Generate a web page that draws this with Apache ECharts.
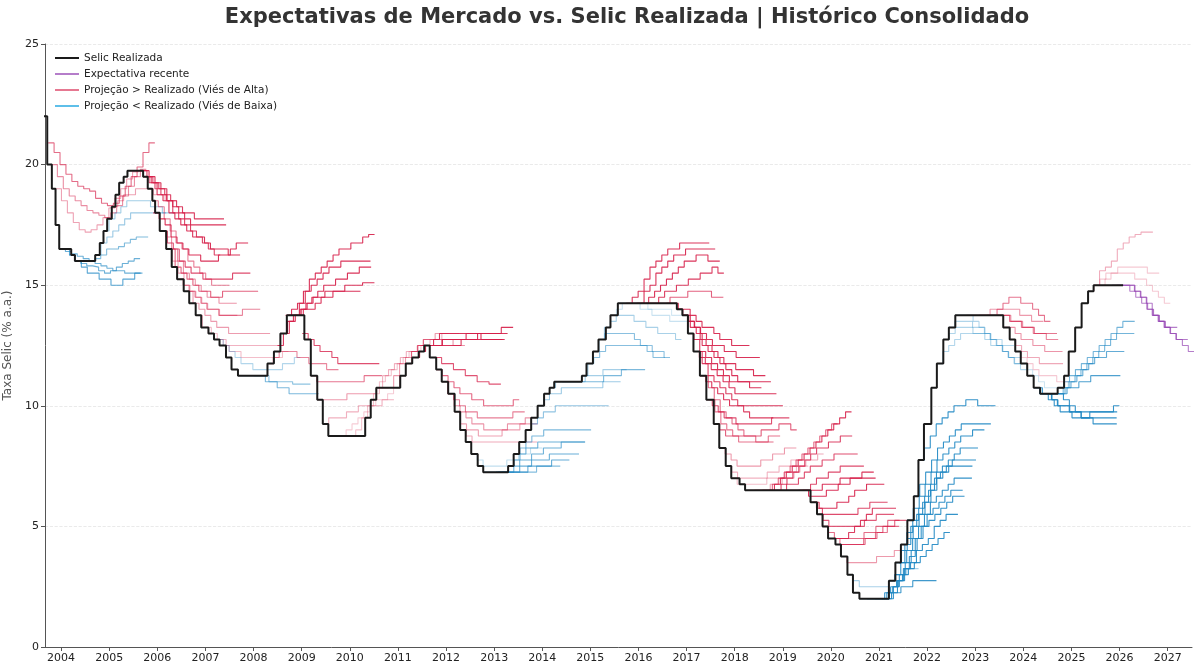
<!DOCTYPE html>
<html>
<head>
<meta charset="utf-8">
<script src="https://cdn.jsdelivr.net/npm/echarts@6/dist/echarts.min.js"></script>
<style>
  html, body { margin: 0; padding: 0; background: #fff; }
  #chart { width: 1200px; height: 672px; }
</style>
</head>
<body>
<div id="chart"></div>
<script>
// Selic realizada: [data da decisão, taxa]
const selicChanges = [
  ['2003-08-21', 22.0], ['2003-09-18', 20.0], ['2003-10-23', 19.0], ['2003-11-20', 17.5], ['2003-12-18', 16.5],
  ['2004-03-18', 16.25], ['2004-04-15', 16.0], ['2004-09-16', 16.25], ['2004-10-21', 16.75], ['2004-11-18', 17.25],
  ['2004-12-16', 17.75], ['2005-01-20', 18.25], ['2005-02-17', 18.75], ['2005-03-17', 19.25], ['2005-04-20', 19.5],
  ['2005-05-19', 19.75], ['2005-09-15', 19.5], ['2005-10-20', 19.0], ['2005-11-24', 18.5], ['2005-12-15', 18.0],
  ['2006-01-19', 17.25], ['2006-03-09', 16.5], ['2006-04-20', 15.75], ['2006-05-31', 15.25], ['2006-07-20', 14.75],
  ['2006-08-31', 14.25], ['2006-10-19', 13.75], ['2006-11-30', 13.25], ['2007-01-24', 13.0], ['2007-03-07', 12.75],
  ['2007-04-18', 12.5], ['2007-06-06', 12.0], ['2007-07-18', 11.5], ['2007-09-05', 11.25], ['2008-04-16', 11.75],
  ['2008-06-04', 12.25], ['2008-07-23', 13.0], ['2008-09-10', 13.75], ['2009-01-21', 12.75], ['2009-03-11', 11.25],
  ['2009-04-29', 10.25], ['2009-06-10', 9.25], ['2009-07-22', 8.75], ['2010-04-28', 9.5], ['2010-06-09', 10.25],
  ['2010-07-21', 10.75], ['2011-01-19', 11.25], ['2011-03-02', 11.75], ['2011-04-20', 12.0], ['2011-06-08', 12.25],
  ['2011-07-20', 12.5], ['2011-08-31', 12.0], ['2011-10-19', 11.5], ['2011-11-30', 11.0], ['2012-01-18', 10.5],
  ['2012-03-07', 9.75], ['2012-04-18', 9.0], ['2012-05-30', 8.5], ['2012-07-11', 8.0], ['2012-08-29', 7.5],
  ['2012-10-10', 7.25], ['2013-04-17', 7.5], ['2013-05-29', 8.0], ['2013-07-10', 8.5], ['2013-08-28', 9.0],
  ['2013-10-09', 9.5], ['2013-11-27', 10.0], ['2014-01-15', 10.5], ['2014-02-26', 10.75], ['2014-04-02', 11.0],
  ['2014-10-29', 11.25], ['2014-12-03', 11.75], ['2015-01-21', 12.25], ['2015-03-04', 12.75], ['2015-04-29', 13.25],
  ['2015-06-03', 13.75], ['2015-07-29', 14.25], ['2016-10-19', 14.0], ['2016-11-30', 13.75], ['2017-01-11', 13.0],
  ['2017-02-22', 12.25], ['2017-04-12', 11.25], ['2017-05-31', 10.25], ['2017-07-26', 9.25], ['2017-09-06', 8.25],
  ['2017-10-25', 7.5], ['2017-12-06', 7.0], ['2018-02-07', 6.75], ['2018-03-21', 6.5], ['2019-07-31', 6.0],
  ['2019-09-18', 5.5], ['2019-10-30', 5.0], ['2019-12-11', 4.5], ['2020-02-05', 4.25], ['2020-03-18', 3.75],
  ['2020-05-06', 3.0], ['2020-06-17', 2.25], ['2020-08-05', 2.0], ['2021-03-17', 2.75], ['2021-05-05', 3.5],
  ['2021-06-16', 4.25], ['2021-08-04', 5.25], ['2021-09-22', 6.25], ['2021-10-27', 7.75], ['2021-12-08', 9.25],
  ['2022-02-02', 10.75], ['2022-03-16', 11.75], ['2022-05-04', 12.75], ['2022-06-15', 13.25], ['2022-08-03', 13.75],
  ['2023-08-02', 13.25], ['2023-09-20', 12.75], ['2023-11-01', 12.25], ['2023-12-13', 11.75], ['2024-01-31', 11.25],
  ['2024-03-20', 10.75], ['2024-05-08', 10.5], ['2024-09-18', 10.75], ['2024-11-06', 11.25], ['2024-12-11', 12.25],
  ['2025-01-29', 13.25], ['2025-03-19', 14.25], ['2025-05-07', 14.75], ['2025-06-18', 15.0], ['2026-01-28', 15.0]
];

// Projeções Focus: [data da pesquisa, trajetória por reunião do Copom]
const proj2004 = [
  ['2003-09-25', [20.9, 20.5, 20.0, 19.6, 19.3, 19.1, 19.0, 18.9, 18.6, 18.4, 18.3, 18.4, 18.7, 19.1, 19.5, 19.9, 20.5, 20.9]],
  ['2003-10-20', [20.0, 19.5, 19.0, 18.7, 18.5, 18.3, 18.1, 18.0, 17.9, 17.8, 18.0, 18.3, 18.7, 19.1, 19.5, 19.8]],
  ['2003-11-20', [19.0, 18.5, 18.0, 17.6, 17.3, 17.2, 17.3, 17.5, 17.8, 18.2, 18.6, 19.0, 19.4, 19.7]],
  ['2003-12-20', [16.5, 16.4, 16.3, 16.2, 16.1, 16.0, 15.9, 15.8, 15.7, 15.6, 15.6, 15.5, 15.5, 15.5]],
  ['2004-01-20', [16.5, 16.25, 16.0, 15.75, 15.5, 15.5, 15.25, 15.25, 15.0, 15.0, 15.25, 15.25, 15.5]],
  ['2004-03-01', [16.25, 16.0, 15.9, 15.8, 15.75, 15.6, 15.5, 15.6, 15.75, 15.9, 16.0, 16.1]],
  ['2004-05-01', [16.0, 16.0, 16.0, 16.1, 16.25, 16.5, 16.5, 16.6, 16.75, 16.9, 17.0, 17.0]],
  ['2004-09-15', [16.25, 16.75, 17.0, 17.25, 17.5, 17.75, 18.0, 18.0, 18.0, 18.0, 18.0, 18.0]],
  ['2004-11-15', [17.25, 17.75, 18.0, 18.25, 18.5, 18.5, 18.5, 18.5, 18.25, 18.25, 18.0, 18.0]],
  ['2005-01-20', [18.25, 18.5, 18.75, 18.75, 19.0, 19.0, 19.0, 18.75, 18.75, 18.5, 18.5]]
];

const proj2006 = [
  ['2005-06-01', [19.75, 19.75, 19.75, 19.5, 19.25, 19.0, 18.75, 18.5, 18.25, 18.0, 18.0, 17.75, 17.75, 17.75, 17.75, 17.75]],
  ['2005-08-01', [19.75, 19.75, 19.5, 19.25, 19.0, 18.5, 18.25, 18.0, 17.75, 17.5, 17.5, 17.5, 17.5, 17.5, 17.5]],
  ['2005-09-15', [19.5, 19.25, 19.0, 18.75, 18.5, 18.0, 17.75, 17.5, 17.25, 17.0, 16.75, 16.5, 16.25]],
  ['2005-10-01', [19.5, 19.25, 18.75, 18.5, 18.0, 17.75, 17.5, 17.25, 17.0, 17.0, 16.75, 16.5, 16.5, 16.5, 16.25, 16.25]],
  ['2005-11-24', [18.5, 18.25, 17.75, 17.25, 16.75, 16.5, 16.0, 15.75, 15.5, 15.25, 15.0, 15.0, 15.0]],
  ['2005-12-01', [18.0, 17.75, 17.5, 17.0, 16.75, 16.5, 16.25, 16.25, 16.0, 16.0, 16.0, 16.25, 16.25, 16.5, 16.75, 16.75]],
  ['2006-01-19', [17.25, 17.0, 16.5, 16.0, 15.5, 15.25, 15.0, 14.75, 14.5, 14.5, 14.25, 14.25, 14.25]],
  ['2006-02-01', [17.25, 16.75, 16.5, 16.0, 15.75, 15.5, 15.5, 15.25, 15.25, 15.25, 15.25, 15.25, 15.5, 15.5, 15.5]],
  ['2006-03-09', [16.5, 16.0, 15.5, 15.0, 14.75, 14.5, 14.25, 14.0, 14.0, 13.75, 13.75, 13.75]],
  ['2006-04-01', [16.5, 15.75, 15.5, 15.25, 15.0, 14.75, 14.75, 14.5, 14.5, 14.75, 14.75, 14.75, 14.75, 14.75, 14.75]],
  ['2006-06-01', [15.25, 15.0, 14.75, 14.5, 14.25, 14.0, 14.0, 13.75, 13.75, 13.75, 13.75, 14.0, 14.0, 14.0]],
  ['2006-08-15', [14.75, 14.25, 14.0, 13.75, 13.5, 13.25, 13.25, 13.0, 13.0, 13.0, 13.0, 13.0, 13.0, 13.0]],
  ['2006-10-25', [13.75, 13.25, 13.0, 12.75, 12.75, 12.5, 12.5, 12.5, 12.5, 12.5, 12.5, 12.5, 12.5, 12.5]],
  ['2007-01-01', [13.25, 13.0, 12.75, 12.5, 12.25, 12.25, 12.0, 12.0, 12.0, 12.0, 12.0, 12.0, 12.0, 12.25]],
  ['2007-04-01', [12.75, 12.5, 12.25, 12.0, 11.75, 11.75, 11.5, 11.5, 11.5, 11.5, 11.5, 11.75, 11.75, 12.0]],
  ['2007-09-15', [11.25, 11.25, 11.25, 11.25, 11.25, 11.0, 11.0, 11.0, 11.0, 10.9, 10.9, 10.9]],
  ['2008-01-01', [11.25, 11.25, 11.0, 11.0, 10.75, 10.75, 10.5, 10.5, 10.5, 10.5, 10.5]],
  ['2008-04-15', [11.75, 12.0, 12.25, 12.25, 12.25, 12.0, 12.0, 11.75, 11.75, 11.75, 11.5, 11.5]]
];

const proj2009 = [
  ['2008-09-01', [13.75, 14.0, 14.25, 14.75, 15.25, 15.5, 15.75, 16.0, 16.25, 16.5, 16.5, 16.75, 16.75, 17.0, 17.1]],
  ['2008-08-01', [13.0, 13.5, 13.75, 14.25, 14.75, 15.0, 15.25, 15.5, 15.75, 15.75, 16.0, 16.0, 16.0, 16.0, 16.0]],
  ['2008-09-20', [13.75, 13.75, 14.0, 14.25, 14.5, 14.75, 15.0, 15.0, 15.25, 15.25, 15.5, 15.5, 15.75, 15.75]],
  ['2008-10-15', [13.75, 13.75, 14.0, 14.0, 14.25, 14.5, 14.5, 14.75, 14.75, 15.0, 15.0, 15.0, 15.1, 15.1]],
  ['2008-07-01', [12.5, 13.0, 13.5, 13.75, 14.0, 14.25, 14.5, 14.5, 14.75, 14.75, 14.75, 14.75, 14.75, 14.75]],
  ['2009-01-05', [13.0, 12.75, 12.5, 12.25, 12.25, 12.0, 11.75, 11.75, 11.75, 11.75, 11.75, 11.75, 11.75]],
  ['2009-03-11', [11.25, 11.0, 11.0, 11.0, 11.0, 11.0, 11.0, 11.0, 11.0, 11.25, 11.25, 11.25]],
  ['2009-04-29', [10.25, 10.25, 10.25, 10.25, 10.25, 10.5, 10.5, 10.5, 10.5, 10.5, 10.75, 10.75]],
  ['2009-06-10', [9.25, 9.5, 9.5, 9.5, 9.75, 9.75, 10.0, 10.0, 10.0, 10.0, 10.25, 10.25]],
  ['2009-07-22', [8.75, 8.75, 8.75, 9.0, 9.25, 9.5, 9.75, 10.0, 10.25, 10.25, 10.5, 10.75]]
];

const proj2011 = [
  ['2010-01-01', [8.75, 9.0, 9.5, 10.0, 10.5, 11.0, 11.25, 11.5, 11.75, 12.0, 12.25, 12.25, 12.5, 12.5]],
  ['2010-06-09', [10.25, 10.75, 11.25, 11.5, 11.75, 12.0, 12.25, 12.25, 12.5, 12.5, 12.75, 12.75, 13.0]],
  ['2010-09-01', [10.75, 10.75, 11.25, 11.75, 12.0, 12.25, 12.5, 12.75, 12.75, 13.0, 13.0, 13.0, 13.0]],
  ['2010-12-01', [10.75, 11.25, 11.75, 12.25, 12.5, 12.75, 12.75, 12.75, 12.75, 12.75, 12.5, 12.5]],
  ['2011-06-08', [12.25, 12.5, 12.5, 12.5, 12.75, 12.75, 12.75, 12.75, 13.0, 13.0, 13.0, 13.0, 13.0, 13.0, 13.0]],
  ['2011-07-20', [12.5, 12.5, 12.5, 12.75, 12.75, 12.75, 12.75, 12.75, 12.75, 13.0, 13.0, 13.0, 13.0, 13.25, 13.25]],
  ['2011-05-01', [12.0, 12.25, 12.5, 12.5, 12.5, 12.5, 12.5, 12.5, 12.75, 12.75, 12.75, 12.75, 12.75, 12.75, 12.75]],
  ['2011-07-01', [12.5, 12.5, 12.75, 13.0, 13.0, 13.0, 13.0, 13.0, 13.0, 13.0, 12.75, 12.75, 12.75, 12.75]],
  ['2011-08-31', [12.0, 12.0, 11.75, 11.75, 11.5, 11.5, 11.25, 11.25, 11.0, 11.0, 10.9, 10.9]],
  ['2011-10-19', [11.5, 11.25, 11.0, 10.75, 10.5, 10.5, 10.25, 10.25, 10.0, 10.0, 10.0, 10.0, 10.0, 10.25]],
  ['2011-11-30', [11.0, 10.5, 10.25, 10.0, 9.75, 9.75, 9.5, 9.5, 9.5, 9.5, 9.5, 9.5, 9.75, 9.75]],
  ['2012-01-18', [10.5, 10.0, 9.75, 9.5, 9.25, 9.25, 9.0, 9.0, 9.0, 9.0, 9.25, 9.25, 9.25, 9.5]],
  ['2012-03-07', [9.75, 9.25, 9.0, 9.0, 8.75, 8.75, 8.75, 8.75, 9.0, 9.0, 9.0, 9.25, 9.25, 9.25]],
  ['2012-04-18', [9.0, 8.75, 8.5, 8.5, 8.5, 8.5, 8.5, 8.5, 8.5, 8.5, 8.5, 8.5, 8.5]],
  ['2012-07-11', [8.0, 7.75, 7.5, 7.5, 7.5, 7.5, 7.75, 7.75, 8.0, 8.0, 8.25, 8.25]]
];

const proj2014 = [
  ['2012-10-10', [7.25, 7.25, 7.25, 7.25, 7.25, 7.25, 7.25, 7.25, 7.25, 7.5, 7.5, 7.5, 7.5]],
  ['2013-01-15', [7.25, 7.25, 7.25, 7.25, 7.5, 7.5, 7.75, 7.75, 7.75, 8.0, 8.0, 8.0, 8.0, 8.0]],
  ['2013-02-01', [7.25, 7.25, 7.25, 7.25, 7.25, 7.5, 7.5, 7.5, 7.5, 7.75, 7.75, 7.75]],
  ['2013-03-01', [7.25, 7.25, 7.5, 7.75, 7.75, 8.0, 8.0, 8.25, 8.25, 8.25, 8.5, 8.5, 8.5, 8.5]],
  ['2013-04-17', [7.5, 7.75, 8.0, 8.25, 8.25, 8.5, 8.5, 8.5, 8.5, 8.5, 8.5, 8.5, 8.5]],
  ['2013-06-01', [8.0, 8.25, 8.5, 8.75, 8.75, 9.0, 9.0, 9.0, 9.0, 9.0, 9.0, 9.0, 9.0]],
  ['2013-08-28', [9.0, 9.25, 9.5, 9.75, 9.75, 10.0, 10.0, 10.0, 10.0, 10.0, 10.0, 10.0, 10.0, 10.0]],
  ['2013-11-27', [10.0, 10.25, 10.5, 10.5, 10.75, 10.75, 10.75, 10.75, 10.75, 10.75, 10.75, 11.0, 11.0, 11.0]],
  ['2014-02-26', [10.75, 11.0, 11.0, 11.0, 11.0, 11.0, 11.25, 11.25, 11.25, 11.5, 11.5, 11.5, 11.5]],
  ['2014-06-01', [11.0, 11.0, 11.0, 11.0, 11.0, 11.0, 11.0, 11.25, 11.25, 11.25, 11.5, 11.5, 11.5, 11.5]],
  ['2014-10-29', [11.25, 11.75, 12.0, 12.25, 12.5, 12.5, 12.5, 12.5, 12.5, 12.5, 12.5, 12.25, 12.0, 12.0]],
  ['2015-01-21', [12.25, 12.75, 13.0, 13.0, 13.0, 13.0, 13.0, 12.75, 12.5, 12.5, 12.25, 12.25, 12.0]],
  ['2015-03-04', [12.75, 13.25, 13.5, 13.75, 13.75, 13.75, 13.5, 13.5, 13.25, 13.25, 13.0, 13.0, 13.0, 12.75]],
  ['2015-06-03', [13.75, 14.0, 14.25, 14.25, 14.25, 14.0, 14.0, 13.75, 13.75, 13.75, 13.5, 13.5, 13.5]],
  ['2015-08-01', [14.25, 14.25, 14.25, 14.25, 14.25, 14.0, 14.0, 14.0, 14.0, 13.75, 13.75, 13.75]]
];

const proj2017 = [
  ['2015-10-01', [14.25, 14.5, 14.75, 15.25, 15.75, 16.0, 16.25, 16.5, 16.5, 16.75, 16.75, 16.75, 16.75, 16.75]],
  ['2015-11-15', [14.25, 14.25, 14.75, 15.0, 15.5, 15.75, 16.0, 16.25, 16.25, 16.5, 16.5, 16.5, 16.5, 16.5]],
  ['2015-12-20', [14.25, 14.25, 14.5, 14.75, 15.0, 15.25, 15.5, 15.75, 16.0, 16.0, 16.25, 16.25, 16.0, 16.0]],
  ['2016-01-20', [14.25, 14.25, 14.25, 14.5, 14.75, 14.75, 15.0, 15.0, 15.25, 15.25, 15.5, 15.5, 15.75, 15.5]],
  ['2016-03-01', [14.25, 14.25, 14.25, 14.25, 14.5, 14.5, 14.5, 14.75, 14.75, 14.75, 14.75, 14.5, 14.5]],
  ['2016-08-01', [14.25, 14.25, 14.0, 14.0, 13.75, 13.5, 13.25, 13.25, 13.0, 12.75, 12.75, 12.5, 12.5, 12.5]],
  ['2016-10-19', [14.0, 13.75, 13.5, 13.25, 13.0, 12.75, 12.5, 12.5, 12.25, 12.25, 12.0, 12.0, 12.0, 12.0]],
  ['2016-11-30', [13.75, 13.5, 13.25, 12.75, 12.5, 12.25, 12.0, 11.75, 11.75, 11.5, 11.5, 11.5, 11.25, 11.25]],
  ['2016-12-15', [13.75, 13.25, 13.0, 12.5, 12.25, 12.0, 11.75, 11.5, 11.25, 11.0, 11.0, 10.75, 10.75]],
  ['2017-01-11', [13.0, 12.75, 12.25, 12.0, 11.75, 11.5, 11.25, 11.0, 11.0, 11.0, 11.0, 11.0, 11.0, 11.0]],
  ['2017-02-22', [12.25, 12.0, 11.75, 11.5, 11.25, 11.0, 10.75, 10.5, 10.5, 10.5, 10.5, 10.5, 10.5, 10.5]],
  ['2017-03-15', [12.25, 11.75, 11.25, 11.0, 10.75, 10.5, 10.25, 10.0, 9.75, 9.5, 9.5, 9.5, 9.5]],
  ['2017-04-12', [11.25, 11.0, 10.75, 10.5, 10.25, 10.0, 10.0, 10.0, 10.0, 10.0, 10.0, 10.0, 10.0, 10.0]],
  ['2017-05-01', [11.25, 10.75, 10.25, 9.75, 9.5, 9.25, 9.0, 8.75, 8.75, 8.5, 8.5, 8.5]],
  ['2017-05-31', [10.25, 10.0, 9.75, 9.5, 9.5, 9.25, 9.25, 9.25, 9.25, 9.25, 9.25, 9.5, 9.5, 9.5]],
  ['2017-06-20', [10.25, 9.75, 9.25, 9.0, 8.75, 8.5, 8.5, 8.5, 8.5, 8.5, 8.75, 8.75]],
  ['2017-07-26', [9.25, 9.0, 8.75, 8.75, 8.75, 8.75, 8.75, 8.75, 9.0, 9.0, 9.0, 9.25, 9.25, 9.0]],
  ['2017-09-06', [8.25, 8.0, 7.75, 7.5, 7.5, 7.5, 7.5, 7.75, 7.75, 8.0, 8.0, 8.25, 8.25]],
  ['2017-10-25', [7.5, 7.25, 7.0, 7.0, 7.0, 7.0, 7.0, 7.25, 7.25, 7.5, 7.5, 7.75, 7.75]],
  ['2017-12-06', [7.0, 6.75, 6.75, 6.75, 6.75, 6.75, 7.0, 7.0, 7.0, 7.25, 7.25, 7.5, 7.5]]
];

const proj2020 = [
  ['2018-06-01', [6.5, 6.5, 6.5, 6.75, 7.0, 7.25, 7.5, 7.75, 8.0, 8.25, 8.5, 8.75, 9.0, 9.25]],
  ['2018-08-01', [6.5, 6.5, 6.75, 7.0, 7.25, 7.5, 7.75, 8.0, 8.25, 8.5, 8.75, 9.0, 9.25, 9.5, 9.75]],
  ['2018-09-20', [6.5, 6.5, 6.75, 7.0, 7.25, 7.5, 7.75, 8.0, 8.25, 8.25, 8.5, 8.5, 8.75, 8.75]],
  ['2018-11-01', [6.5, 6.5, 6.75, 6.75, 7.0, 7.25, 7.5, 7.5, 7.75, 7.75, 8.0, 8.0, 8.0, 8.0]],
  ['2018-04-01', [6.5, 6.5, 6.5, 6.5, 6.75, 6.75, 7.0, 7.0, 7.25, 7.5, 7.75, 7.75, 8.0]],
  ['2019-02-01', [6.5, 6.5, 6.5, 6.5, 6.75, 7.0, 7.0, 7.25, 7.25, 7.5, 7.5, 7.5, 7.5]],
  ['2019-05-01', [6.5, 6.5, 6.5, 6.5, 6.75, 6.75, 6.75, 7.0, 7.0, 7.0, 7.0, 7.0, 7.0]],
  ['2019-06-01', [6.5, 6.25, 6.25, 6.25, 6.5, 6.5, 6.75, 6.75, 7.0, 7.0, 7.25, 7.25]],
  ['2019-07-31', [6.0, 5.75, 5.5, 5.5, 5.5, 5.5, 5.5, 5.5, 5.75, 5.75, 6.0, 6.0, 6.0]],
  ['2019-08-20', [6.0, 5.75, 5.75, 5.75, 6.0, 6.0, 6.25, 6.5, 6.5, 6.75, 6.75, 6.75]],
  ['2019-09-18', [5.5, 5.25, 5.0, 5.0, 5.0, 5.0, 5.0, 5.0, 5.25, 5.25, 5.5, 5.5, 5.5]],
  ['2019-10-30', [5.0, 4.75, 4.5, 4.5, 4.5, 4.5, 4.5, 4.75, 4.75, 5.0, 5.0, 5.25, 5.25]],
  ['2019-12-11', [4.5, 4.5, 4.25, 4.25, 4.25, 4.25, 4.5, 4.5, 4.75, 4.75, 5.0, 5.0]],
  ['2020-01-01', [4.5, 4.5, 4.5, 4.75, 5.0, 5.25, 5.5, 5.75, 5.75, 5.75, 5.75]],
  ['2020-02-05', [4.25, 4.25, 4.25, 4.25, 4.25, 4.5, 4.5, 4.75, 5.0, 5.0, 5.25, 5.25]],
  ['2020-03-18', [3.75, 3.5, 3.5, 3.5, 3.5, 3.5, 3.75, 3.75, 3.75, 4.0, 4.0]],
  ['2020-05-06', [3.0, 2.75, 2.5, 2.5, 2.5, 2.5, 2.5, 2.75, 3.0, 3.0, 3.25, 3.25]]
];

const proj2022 = [
  ['2020-08-05', [2.0, 2.0, 2.0, 2.0, 2.0, 2.25, 2.25, 2.5, 2.5, 2.75, 2.75, 2.75, 2.75]],
  ['2020-10-01', [2.0, 2.0, 2.0, 2.25, 2.5, 2.75, 3.0, 3.25, 3.5, 3.75, 4.0, 4.25, 4.5, 4.75]],
  ['2020-12-01', [2.0, 2.0, 2.25, 2.5, 2.75, 3.25, 3.5, 4.0, 4.25, 4.5, 5.0, 5.25, 5.5, 5.5]],
  ['2021-01-20', [2.0, 2.0, 2.5, 3.0, 3.5, 4.0, 4.5, 5.0, 5.25, 5.5, 5.75, 6.0, 6.25, 6.25]],
  ['2021-02-20', [2.0, 2.25, 2.75, 3.25, 3.75, 4.5, 5.0, 5.5, 5.75, 6.0, 6.25, 6.5, 6.5]],
  ['2021-03-17', [2.75, 3.0, 3.5, 4.0, 4.5, 5.0, 5.5, 6.0, 6.25, 6.5, 6.75, 7.0, 7.0, 7.0]],
  ['2021-05-05', [3.5, 4.0, 4.5, 5.0, 5.5, 6.0, 6.5, 7.0, 7.25, 7.5, 7.5, 7.5, 7.5]],
  ['2021-06-01', [3.5, 4.25, 5.0, 5.5, 6.0, 6.5, 7.0, 7.25, 7.5, 7.75, 7.75, 7.75, 7.75]],
  ['2021-06-16', [4.25, 4.75, 5.25, 5.75, 6.25, 6.75, 7.25, 7.5, 7.75, 8.0, 8.25, 8.25, 8.25]],
  ['2021-08-04', [5.25, 5.75, 6.25, 6.75, 7.25, 7.75, 8.0, 8.25, 8.5, 8.75, 8.75, 9.0, 9.0]],
  ['2021-09-22', [6.25, 6.75, 7.25, 7.75, 8.25, 8.5, 8.75, 9.0, 9.25, 9.25, 9.25, 9.25, 9.25]],
  ['2021-10-27', [7.75, 8.25, 8.75, 9.25, 9.5, 9.75, 10.0, 10.0, 10.25, 10.25, 10.0, 10.0, 10.0]],
  ['2022-03-16', [11.75, 12.25, 12.5, 12.75, 13.0, 13.0, 13.0, 13.0, 13.0, 12.75, 12.75, 12.5, 12.5]],
  ['2022-05-04', [12.75, 13.0, 13.25, 13.25, 13.25, 13.0, 13.0, 12.75, 12.5, 12.5, 12.25, 12.0, 12.0]],
  ['2022-06-15', [13.25, 13.5, 13.5, 13.5, 13.25, 13.25, 13.0, 12.75, 12.5, 12.25, 12.0, 11.75]],
  ['2022-08-03', [13.75, 13.75, 13.75, 13.5, 13.25, 13.0, 12.75, 12.5, 12.25, 12.0, 11.75, 11.5]]
];

const proj2024 = [
  ['2022-10-26', [13.75, 13.75, 13.75, 13.75, 14.0, 14.0, 14.0, 14.0, 14.0, 13.75, 13.75, 13.5, 13.5]],
  ['2023-02-01', [13.75, 13.75, 13.75, 14.0, 14.25, 14.5, 14.5, 14.25, 14.25, 14.0, 13.75, 13.5]],
  ['2023-04-01', [13.75, 13.75, 13.75, 13.75, 13.5, 13.5, 13.25, 13.25, 13.0, 13.0, 12.75, 12.75]],
  ['2023-06-21', [13.75, 13.75, 13.5, 13.5, 13.25, 13.25, 13.0, 13.0, 13.0, 13.0]],
  ['2023-08-02', [13.25, 13.25, 13.0, 12.75, 12.75, 12.5, 12.5, 12.25, 12.25, 12.25]],
  ['2023-09-20', [12.75, 12.5, 12.25, 12.0, 12.0, 11.75, 11.75, 11.75, 11.75]],
  ['2023-11-01', [12.25, 12.0, 11.75, 11.5, 11.25, 11.25, 11.25, 11.0, 11.0]],
  ['2023-12-13', [11.75, 11.5, 11.25, 11.0, 10.75, 10.75, 10.75, 10.75, 11.0]],
  ['2024-03-20', [10.75, 10.5, 10.5, 10.25, 10.0, 10.0, 9.75, 9.75, 9.5, 9.5, 9.5, 9.5, 9.5, 9.5]],
  ['2024-05-08', [10.5, 10.5, 10.25, 10.0, 10.0, 9.75, 9.75, 9.75, 9.75, 9.75, 9.75, 9.75, 9.75]],
  ['2024-06-19', [10.5, 10.5, 10.5, 10.25, 10.0, 9.75, 9.5, 9.5, 9.25, 9.25, 9.25, 9.25]],
  ['2024-04-10', [10.75, 10.5, 10.25, 10.0, 9.75, 9.75, 9.5, 9.5, 9.5, 9.75, 9.75, 9.75, 9.75, 10.0]],
  ['2024-09-18', [10.75, 11.0, 11.25, 11.5, 11.75, 12.0, 12.25, 12.5, 12.75, 13.0, 13.25, 13.5, 13.5]],
  ['2024-08-01', [10.5, 10.5, 10.75, 11.0, 11.25, 11.5, 11.75, 12.0, 12.25, 12.5, 12.75, 13.0, 13.0, 13.0]],
  ['2024-07-01', [10.5, 10.5, 10.5, 10.75, 11.0, 11.25, 11.5, 11.75, 12.0, 12.0, 12.25, 12.25, 12.25]],
  ['2024-06-01', [10.5, 10.5, 10.5, 10.5, 10.75, 10.75, 11.0, 11.0, 11.25, 11.25, 11.25, 11.25, 11.25]],
  ['2025-06-18', [15.0, 15.6, 15.75, 16.0, 16.5, 16.75, 17.0, 17.1, 17.2, 17.2]],
  ['2025-05-07', [14.75, 15.0, 15.25, 15.5, 15.5, 15.75, 15.75, 15.75, 15.75, 15.75, 15.5, 15.5]],
  ['2025-07-30', [15.0, 15.25, 15.5, 15.5, 15.5, 15.5, 15.25, 15.25, 15.0, 14.75, 14.5, 14.25]]
];

// Expectativas mais recentes
const recentProj = [
  ['2025-11-05', [15.0, 15.0, 15.0, 14.75, 14.5, 14.25, 14.0, 13.75, 13.5, 13.25, 13.25]],
  ['2025-12-10', [15.0, 15.0, 15.0, 14.75, 14.5, 14.25, 13.75, 13.5, 13.25, 13.0, 12.75, 12.75]],
  ['2026-01-28', [15.0, 15.0, 14.75, 14.5, 14.0, 13.75, 13.5, 13.25, 13.0, 12.75, 12.5, 12.25]]
];

const yearTicks = [2004, 2005, 2006, 2007, 2008, 2009, 2010, 2011, 2012, 2013, 2014, 2015,
  2016, 2017, 2018, 2019, 2020, 2021, 2022, 2023, 2024, 2025, 2026, 2027];

const DAY = 86400000;
const STEP = 45 * DAY;

const selicData = selicChanges.map(([d, v]) => [Date.parse(d), v]);
const lastT = selicData[selicData.length - 1][0];

const selicAt = (t) => {
  let v = null;
  for (const [d, val] of selicData) {
    if (d <= t) v = val; else break;
  }
  return v;
};

const buildPath = (start, path) => {
  const t0 = Date.parse(start);
  const pts = path.map((v, i) => [t0 + i * STEP, v]);
  pts.push([t0 + path.length * STEP, path[path.length - 1]]);
  return pts;
};

const allProj = [].concat(proj2004, proj2006, proj2009, proj2011, proj2014, proj2017, proj2020, proj2022, proj2024);

const projSeries = allProj.map(([start, path], idx) => {
  const pts = buildPath(start, path);
  let sum = 0, sumAbs = 0, n = 0;
  pts.forEach(([t, v]) => {
    if (t > lastT) return;
    const r = selicAt(t);
    if (r == null) return;
    sum += v - r; sumAbs += Math.abs(v - r); n++;
  });
  const meanAbs = n ? sumAbs / n : 0;
  const alpha = Math.min(0.9, 0.14 + 0.3 * meanAbs);
  const up = sum >= 0;
  const color = up ? `rgba(214,30,72,${alpha.toFixed(2)})` : `rgba(30,135,195,${alpha.toFixed(2)})`;
  return {
    name: 'proj' + idx,
    type: 'line',
    step: 'end',
    data: pts,
    showSymbol: false,
    silent: true,
    z: 2,
    lineStyle: { width: 1.1, color: color }
  };
});

const recentSeries = recentProj.map(([start, path]) => ({
  name: 'Expectativa recente',
  type: 'line',
  step: 'end',
  data: buildPath(start, path),
  showSymbol: false,
  silent: true,
  z: 3,
  itemStyle: { color: 'rgba(150,70,180,0.7)' },
  lineStyle: { width: 1.1, color: 'rgba(150,70,180,0.7)' }
}));

const legendOnly = (name, color) => ({
  name: name,
  type: 'line',
  data: [],
  itemStyle: { color: color },
  lineStyle: { color: color }
});

const tickValues = yearTicks.map(y => Date.UTC(y, 0, 1));

const chart = echarts.init(document.getElementById('chart'));

chart.setOption({
  animation: false,
  textStyle: { fontFamily: 'DejaVu Sans' },
  title: {
    text: 'Expectativas de Mercado vs. Selic Realizada | Histórico Consolidado',
    left: 622,
    textAlign: 'center',
    top: 2,
    textStyle: { fontSize: 21, fontWeight: 'bold', color: '#333', fontFamily: 'DejaVu Sans' }
  },
  legend: {
    data: ['Selic Realizada', 'Expectativa recente',
      'Projeção > Realizado (Viés de Alta)', 'Projeção < Realizado (Viés de Baixa)'],
    orient: 'vertical',
    left: 50,
    top: 47,
    icon: 'rect',
    itemWidth: 24,
    itemHeight: 2,
    itemGap: 4,
    textStyle: { fontSize: 10.5, lineHeight: 12, color: '#222' }
  },
  grid: { left: 45, right: 8, top: 44, bottom: 25, outerBoundsMode: 'none' },
  xAxis: {
    type: 'value',
    min: Date.parse('2003-09-01'),
    max: Date.parse('2027-07-05'),
    axisLine: { lineStyle: { color: '#555', width: 1 } },
    axisTick: { show: true, length: 4, lineStyle: { color: '#555' }, customValues: tickValues },
    axisLabel: {
      customValues: tickValues,
      formatter: (v) => String(new Date(v).getUTCFullYear()),
      color: '#222', fontSize: 11, margin: 6
    },
    splitLine: { show: false }
  },
  yAxis: {
    type: 'value',
    min: 0,
    max: 25,
    interval: 5,
    name: 'Taxa Selic (% a.a.)',
    nameLocation: 'middle',
    nameGap: 26,
    nameTextStyle: { color: '#555', fontSize: 12 },
    axisLine: { show: true, lineStyle: { color: '#555', width: 1 } },
    axisTick: { show: true, length: 4, lineStyle: { color: '#555' } },
    axisLabel: { color: '#222', fontSize: 11, margin: 6 },
    splitLine: { show: true, lineStyle: { color: '#e4e4e4', type: 'dashed', width: 0.8 } }
  },
  series: [
    ...projSeries,
    ...recentSeries,
    legendOnly('Projeção > Realizado (Viés de Alta)', 'rgba(214,30,72,0.6)'),
    legendOnly('Projeção < Realizado (Viés de Baixa)', 'rgba(40,170,225,0.75)'),
    {
      name: 'Selic Realizada',
      type: 'line',
      step: 'end',
      data: selicData,
      showSymbol: false,
      silent: true,
      z: 10,
      itemStyle: { color: '#1a1a1a' },
      lineStyle: { width: 2, color: '#1a1a1a' }
    }
  ]
});
</script>
</body>
</html>
